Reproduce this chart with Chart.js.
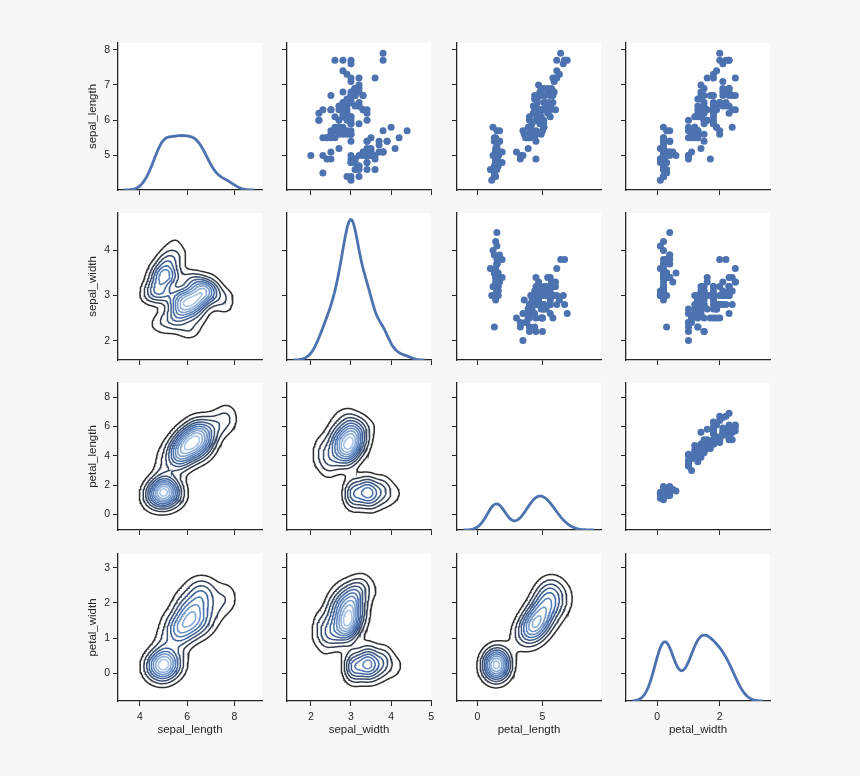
<!DOCTYPE html>
<html>
<head>
<meta charset="utf-8">
<title>iris pairplot</title>
<script src="https://cdn.jsdelivr.net/npm/chart.js"></script>
<style>
  body { margin: 0; background: #f7f7f7; }
  #grid { position: relative; width: 860px; height: 776px; }
  #grid canvas { position: absolute; }
</style>
</head>
<body>
<div id="grid"></div>
<script>
const varNames = ["sepal_length", "sepal_width", "petal_length", "petal_width"];

const sepalLength = [5.1,4.9,4.7,4.6,5.0,5.4,4.6,5.0,4.4,4.9,5.4,4.8,4.8,4.3,5.8,5.7,5.4,5.1,5.7,5.1,5.4,5.1,4.6,5.1,4.8,5.0,5.0,5.2,5.2,4.7,4.8,5.4,5.2,5.5,4.9,5.0,5.5,4.9,4.4,5.1,5.0,4.5,4.4,5.0,5.1,4.8,5.1,4.6,5.3,5.0,
  7.0,6.4,6.9,5.5,6.5,5.7,6.3,4.9,6.6,5.2,5.0,5.9,6.0,6.1,5.6,6.7,5.6,5.8,6.2,5.6,5.9,6.1,6.3,6.1,6.4,6.6,6.8,6.7,6.0,5.7,5.5,5.5,5.8,6.0,5.4,6.0,6.7,6.3,5.6,5.5,5.5,6.1,5.8,5.0,5.6,5.7,5.7,6.2,5.1,5.7,
  6.3,5.8,7.1,6.3,6.5,7.6,4.9,7.3,6.7,7.2,6.5,6.4,6.8,5.7,5.8,6.4,6.5,7.7,7.7,6.0,6.9,5.6,7.7,6.3,6.7,7.2,6.2,6.1,6.4,7.2,7.4,7.9,6.4,6.3,6.1,7.7,6.3,6.4,6.0,6.9,6.7,6.9,5.8,6.8,6.7,6.7,6.3,6.5,6.2,5.9];
const sepalWidth = [3.5,3.0,3.2,3.1,3.6,3.9,3.4,3.4,2.9,3.1,3.7,3.4,3.0,3.0,4.0,4.4,3.9,3.5,3.8,3.8,3.4,3.7,3.6,3.3,3.4,3.0,3.4,3.5,3.4,3.2,3.1,3.4,4.1,4.2,3.1,3.2,3.5,3.6,3.0,3.4,3.5,2.3,3.2,3.5,3.8,3.0,3.8,3.2,3.7,3.3,
  3.2,3.2,3.1,2.3,2.8,2.8,3.3,2.4,2.9,2.7,2.0,3.0,2.2,2.9,2.9,3.1,3.0,2.7,2.2,2.5,3.2,2.8,2.5,2.8,2.9,3.0,2.8,3.0,2.9,2.6,2.4,2.4,2.7,2.7,3.0,3.4,3.1,2.3,3.0,2.5,2.6,3.0,2.6,2.3,2.7,3.0,2.9,2.9,2.5,2.8,
  3.3,2.7,3.0,2.9,3.0,3.0,2.5,2.9,2.5,3.6,3.2,2.7,3.0,2.5,2.8,3.2,3.0,3.8,2.6,2.2,3.2,2.8,2.8,2.7,3.3,3.2,2.8,3.0,2.8,3.0,2.8,3.8,2.8,2.8,2.6,3.0,3.4,3.1,3.0,3.1,3.1,3.1,2.7,3.2,3.3,3.0,2.5,3.0,3.4,3.0];
const petalLength = [1.4,1.4,1.3,1.5,1.4,1.7,1.4,1.5,1.4,1.5,1.5,1.6,1.4,1.1,1.2,1.5,1.3,1.4,1.7,1.5,1.7,1.5,1.0,1.7,1.9,1.6,1.6,1.5,1.4,1.6,1.6,1.5,1.5,1.4,1.5,1.2,1.3,1.4,1.3,1.5,1.3,1.3,1.3,1.6,1.9,1.4,1.6,1.4,1.5,1.4,
  4.7,4.5,4.9,4.0,4.6,4.5,4.7,3.3,4.6,3.9,3.5,4.2,4.0,4.7,3.6,4.4,4.5,4.1,4.5,3.9,4.8,4.0,4.9,4.7,4.3,4.4,4.8,5.0,4.5,3.5,3.8,3.7,3.9,5.1,4.5,4.5,4.7,4.4,4.1,4.0,4.4,4.6,4.0,3.3,4.2,4.2,4.2,4.3,3.0,4.1,
  6.0,5.1,5.9,5.6,5.8,6.6,4.5,6.3,5.8,6.1,5.1,5.3,5.5,5.0,5.1,5.3,5.5,6.7,6.9,5.0,5.7,4.9,6.7,4.9,5.7,6.0,4.8,4.9,5.6,5.8,6.1,6.4,5.6,5.1,5.6,6.1,5.6,5.5,4.8,5.4,5.6,5.1,5.1,5.9,5.7,5.2,5.0,5.2,5.4,5.1];
const petalWidth = [0.2,0.2,0.2,0.2,0.2,0.4,0.3,0.2,0.2,0.1,0.2,0.2,0.1,0.1,0.2,0.4,0.4,0.3,0.3,0.3,0.2,0.4,0.2,0.5,0.2,0.2,0.4,0.2,0.2,0.2,0.2,0.4,0.1,0.2,0.2,0.2,0.2,0.1,0.2,0.2,0.3,0.3,0.2,0.6,0.4,0.3,0.2,0.2,0.2,0.2,
  1.4,1.5,1.5,1.3,1.5,1.3,1.6,1.0,1.3,1.4,1.0,1.5,1.0,1.4,1.3,1.4,1.5,1.0,1.5,1.1,1.8,1.3,1.5,1.2,1.3,1.4,1.4,1.7,1.5,1.0,1.1,1.0,1.2,1.6,1.5,1.6,1.5,1.3,1.3,1.3,1.2,1.4,1.2,1.0,1.3,1.2,1.3,1.3,1.1,1.3,
  2.5,1.9,2.1,1.8,2.2,2.1,1.7,1.8,1.8,2.5,2.0,1.9,2.1,2.0,2.4,2.3,1.8,2.2,2.3,1.5,2.3,2.0,2.0,1.8,2.1,1.8,1.8,1.8,2.1,1.6,1.9,2.0,2.2,1.5,1.4,2.3,2.4,1.8,1.8,2.1,2.4,2.3,1.9,2.3,2.5,2.3,1.9,2.0,2.3,1.8];

// axis limits and ticks, one entry per variable
const axisLimitsX = [[3.07, 9.17], [1.405, 4.995], [-1.57, 9.5], [-1.0, 3.61]];
const axisLimitsY = [[4.02, 8.19], [1.57, 4.83], [-1.06, 8.96], [-0.79, 3.39]];
const ticksX = [[4, 6, 8], [2, 3, 4, 5], [0, 5], [0, 2]];
const ticksY = [[5, 6, 7, 8], [2, 3, 4], [0, 2, 4, 6, 8], [0, 1, 2, 3]];

const columns = [sepalLength, sepalWidth, petalLength, petalWidth];

const blue = "#4C72B0";
const ink = "#262626";
const colLeft = [118, 287, 457, 626];
const rowTop = [43, 213, 383, 554];
const plotW = 144, plotH = 147;
const L = 40, T = 10, R = 10, B = 40;

// --- kde helpers (gaussian kernel, scott bandwidth, cut = 3, 100 grid points)
function quantile(sorted, p) {
    const pos = p * (sorted.length - 1);
    const lo = Math.floor(pos), hi = Math.ceil(pos);
    return sorted[lo] + (sorted[hi] - sorted[lo]) * (pos - lo);
}

function bwScott(a) {
    const n = a.length;
    const m = a.reduce((s, v) => s + v, 0) / n;
    const sd = Math.sqrt(a.reduce((s, v) => s + (v - m) * (v - m), 0) / (n - 1));
    const sorted = [...a].sort((p, q) => p - q);
    const iqr = quantile(sorted, 0.75) - quantile(sorted, 0.25);
    return 1.059 * Math.min(sd, iqr / 1.349) * Math.pow(n, -0.2);
}

function support(a, bw) {
    const lo = Math.min(...a) - 3 * bw, hi = Math.max(...a) + 3 * bw;
    const out = [];
    for (let i = 0; i < 100; i++) out.push(lo + (hi - lo) * i / 99);
    return out;
}

function kernelRows(grid, a, bw) {
    return grid.map(g => a.map(v => {
        const u = (g - v) / bw;
        return Math.exp(-0.5 * u * u) / (bw * Math.sqrt(2 * Math.PI));
    }));
}

function kde1d(a) {
    const bw = bwScott(a);
    const xs = support(a, bw);
    const k = kernelRows(xs, a, bw);
    return xs.map((x, i) => ({ x: x, y: k[i].reduce((s, v) => s + v, 0) / a.length }));
}

function kde2d(ax, ay) {
    const bx = bwScott(ax), by = bwScott(ay);
    const xs = support(ax, bx), ys = support(ay, by);
    const kx = kernelRows(xs, ax, bx), ky = kernelRows(ys, ay, by);
    const n = ax.length;
    const z = xs.map((_, i) => ys.map((_, j) => {
        let s = 0;
        for (let p = 0; p < n; p++) s += kx[i][p] * ky[j][p];
        return s / n;
    }));
    return { xs, ys, z };
}

// marching squares, segments chained into polylines
function isolines(z, xs, ys, level) {
    const nx = xs.length, ny = ys.length;
    const pos = new Map(), adj = new Map();
    const edgeH = (i, j) => {
        const key = "h" + i + "," + j;
        if (!pos.has(key)) {
            const t = (level - z[i][j]) / (z[i + 1][j] - z[i][j]);
            pos.set(key, { x: xs[i] + t * (xs[i + 1] - xs[i]), y: ys[j] });
        }
        return key;
    };
    const edgeV = (i, j) => {
        const key = "v" + i + "," + j;
        if (!pos.has(key)) {
            const t = (level - z[i][j]) / (z[i][j + 1] - z[i][j]);
            pos.set(key, { x: xs[i], y: ys[j] + t * (ys[j + 1] - ys[j]) });
        }
        return key;
    };
    const link = (a, b) => {
        if (!adj.has(a)) adj.set(a, []);
        if (!adj.has(b)) adj.set(b, []);
        adj.get(a).push(b);
        adj.get(b).push(a);
    };
    for (let i = 0; i < nx - 1; i++) {
        for (let j = 0; j < ny - 1; j++) {
            const a = z[i][j] > level, b = z[i + 1][j] > level;
            const c = z[i + 1][j + 1] > level, d = z[i][j + 1] > level;
            const cut = [];
            if (a !== b) cut.push(edgeH(i, j));
            if (b !== c) cut.push(edgeV(i + 1, j));
            if (c !== d) cut.push(edgeH(i, j + 1));
            if (d !== a) cut.push(edgeV(i, j));
            if (cut.length === 2) link(cut[0], cut[1]);
            else if (cut.length === 4) {
                const mid = (z[i][j] + z[i + 1][j] + z[i + 1][j + 1] + z[i][j + 1]) / 4 > level;
                if (mid === a) { link(cut[0], cut[1]); link(cut[2], cut[3]); }
                else { link(cut[3], cut[0]); link(cut[1], cut[2]); }
            }
        }
    }
    const seen = new Set(), lines = [];
    const trace = start => {
        const line = [pos.get(start)];
        seen.add(start);
        let cur = start;
        for (;;) {
            const next = adj.get(cur).find(k => !seen.has(k));
            if (next === undefined) break;
            seen.add(next);
            line.push(pos.get(next));
            cur = next;
        }
        if (line.length > 2 && adj.get(cur).includes(start)) line.push(pos.get(start));
        return line;
    };
    for (const [k, nb] of adj) if (nb.length === 1 && !seen.has(k)) lines.push(trace(k));
    for (const k of adj.keys()) if (!seen.has(k)) lines.push(trace(k));
    return lines;
}

// 10 contour levels, nice steps as in the old matplotlib locator
function contourLevels(z) {
    let zmax = 0;
    z.forEach(row => row.forEach(v => { if (v > zmax) zmax = v; }));
    const raw = zmax / 11;
    const p = Math.pow(10, Math.floor(Math.log10(raw)));
    let step = 10 * p;
    for (const s of [1, 1.5, 2, 2.5, 3, 4, 5, 6, 8, 10]) { if (s * p >= raw) { step = s * p; break; } }
    const levels = [];
    for (let k = 1; k * step < zmax; k++) levels.push(k * step);
    return levels;
}

// dark grey -> blue -> pale blue
function levelColor(t) {
    const stops = [[0x2e, 0x2e, 0x2e], [0x40, 0x6a, 0xaa], [0xa3, 0xc4, 0xe8]];
    const u = t * 2, k = Math.min(1, Math.floor(u)), f = u - k;
    const c = stops[k].map((v, i) => Math.round(v + (stops[k + 1][i] - v) * f));
    return "rgb(" + c.join(",") + ")";
}

// diagonal curves share one density scale
const diagCurves = columns.map(kde1d);
let diagPeak = 0;
diagCurves.forEach(cv => cv.forEach(p => { if (p.y > diagPeak) diagPeak = p.y; }));

const plotBackground = {
    id: "plotBackground",
    beforeDraw(chart) {
        const a = chart.chartArea;
        chart.ctx.save();
        chart.ctx.fillStyle = "#ffffff";
        chart.ctx.fillRect(a.left, a.top, a.right - a.left, a.bottom - a.top);
        chart.ctx.restore();
    }
};

function makeDatasets(r, c) {
    if (r === c) {
        return [{
            data: diagCurves[c], showLine: true, pointRadius: 0, borderColor: blue,
            borderWidth: 2.8, yAxisID: "yd"
        }];
    }
    if (c > r) {
        const pts = columns[c].map((v, i) => ({ x: v, y: columns[r][i] }));
        return [{
            data: pts, pointRadius: 3.5, pointBackgroundColor: blue, pointBorderWidth: 0
        }];
    }
    const k = kde2d(columns[c], columns[r]);
    const levels = contourLevels(k.z);
    const sets = [];
    levels.forEach((lev, li) => {
        const col = levelColor(levels.length > 1 ? li / (levels.length - 1) : 1);
        isolines(k.z, k.xs, k.ys, lev).forEach(line => {
            sets.push({ data: line, showLine: true, pointRadius: 0, borderColor: col, borderWidth: 1.5 });
        });
    });
    return sets;
}

const tickFont = { family: "'Liberation Sans', Arial, sans-serif", size: 10.5 };
const titleFont = { family: "'Liberation Sans', Arial, sans-serif", size: 11.5 };

const grid = document.getElementById("grid");
for (let r = 0; r < 4; r++) {
    for (let c = 0; c < 4; c++) {
        const canvas = document.createElement("canvas");
        canvas.width = L + plotW + R;
        canvas.height = T + plotH + B;
        canvas.style.left = (colLeft[c] - L) + "px";
        canvas.style.top = (rowTop[r] - T) + "px";
        grid.appendChild(canvas);

        new Chart(canvas, {
            type: "scatter",
            data: { datasets: makeDatasets(r, c) },
            plugins: [plotBackground],
            options: {
                responsive: false,
                animation: false,
                events: [],
                layout: { padding: { top: T, right: R, left: 0, bottom: 0 } },
                plugins: { legend: { display: false }, tooltip: { enabled: false } },
                scales: {
                    x: {
                        type: "linear",
                        min: axisLimitsX[c][0],
                        max: axisLimitsX[c][1],
                        afterBuildTicks: s => { s.ticks = ticksX[c].map(v => ({ value: v })); },
                        afterFit: s => { s.height = B; },
                        grid: { drawOnChartArea: false, drawTicks: true, tickLength: 5, color: ink, lineWidth: 1 },
                        border: { display: true, color: ink, width: 1.3 },
                        ticks: { display: r === 3, color: ink, font: tickFont, padding: 5, maxRotation: 0 },
                        title: { display: r === 3, text: varNames[c], color: ink, font: titleFont, padding: { top: 0, bottom: 4 } }
                    },
                    y: {
                        type: "linear",
                        position: "left",
                        min: axisLimitsY[r][0],
                        max: axisLimitsY[r][1],
                        afterBuildTicks: s => { s.ticks = ticksY[r].map(v => ({ value: v })); },
                        afterFit: s => { s.width = L; },
                        grid: { drawOnChartArea: false, drawTicks: true, tickLength: 5, color: ink, lineWidth: 1 },
                        border: { display: true, color: ink, width: 1.3 },
                        ticks: { display: c === 0, color: ink, font: tickFont, padding: 3 },
                        title: { display: c === 0, text: varNames[r], color: ink, font: titleFont, padding: { top: 7.5, bottom: 0 } }
                    },
                    yd: {
                        type: "linear",
                        position: "right",
                        display: false,
                        min: 0,
                        max: diagPeak / 0.955
                    }
                }
            }
        });
    }
}
</script>
</body>
</html>
